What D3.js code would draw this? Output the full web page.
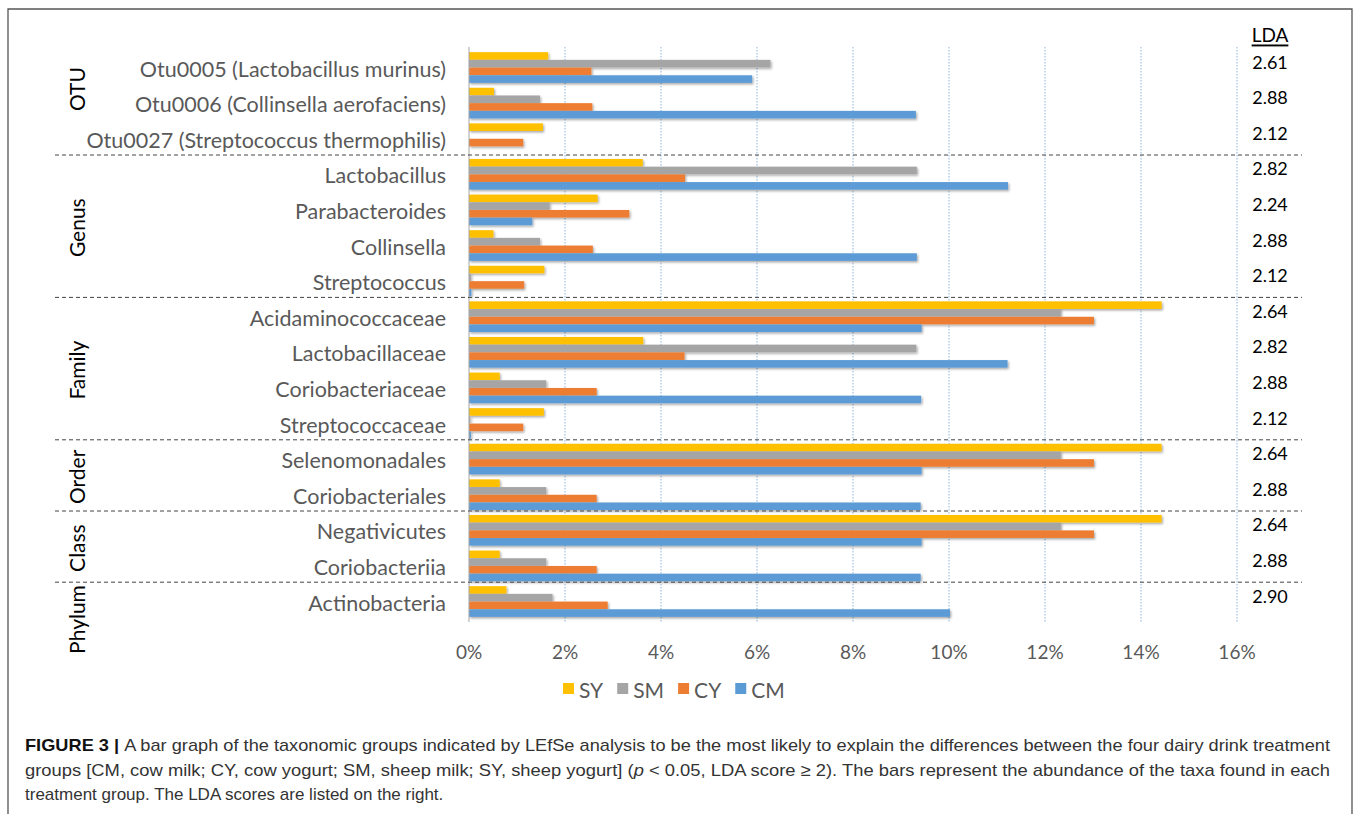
<!DOCTYPE html>
<html>
<head>
<meta charset="utf-8">
<script src="https://cdn.jsdelivr.net/npm/d3@7"></script>
<style>
  html, body { margin: 0; padding: 0; background: #fff; }
  svg { display: block; }
</style>
</head>
<body>
<svg id="chart" width="1357" height="814"></svg>
<script>
// ---------- data ----------
const categories = [
  "Otu0005 (Lactobacillus murinus)",
  "Otu0006 (Collinsella aerofaciens)",
  "Otu0027 (Streptococcus thermophilis)",
  "Lactobacillus",
  "Parabacteroides",
  "Collinsella",
  "Streptococcus",
  "Acidaminococcaceae",
  "Lactobacillaceae",
  "Coriobacteriaceae",
  "Streptococcaceae",
  "Selenomonadales",
  "Coriobacteriales",
  "Negativicutes",
  "Coriobacteriia",
  "Actinobacteria"
];
const seriesNames = ["SY", "SM", "CY", "CM"];
const SY = [1.65, 0.52, 1.54, 3.62, 2.68, 0.51, 1.57, 14.43, 3.63, 0.64, 1.56, 14.43, 0.64, 14.43, 0.64, 0.78];
const SM = [6.28, 1.48, 0.00, 9.33, 1.68, 1.48, 0.04, 12.33, 9.32, 1.61, 0.03, 12.33, 1.61, 12.33, 1.61, 1.74];
const CY = [2.55, 2.57, 1.13, 4.50, 3.34, 2.58, 1.15, 13.02, 4.49, 2.66, 1.13, 13.02, 2.66, 13.02, 2.66, 2.89];
const CM = [5.90, 9.31, 0.00, 11.23, 1.32, 9.33, 0.05, 9.43, 11.22, 9.42, 0.04, 9.43, 9.41, 9.43, 9.41, 10.02];
const LDA = ["2.61","2.88","2.12","2.82","2.24","2.88","2.12","2.64","2.82","2.88","2.12","2.64","2.88","2.64","2.88","2.90"];
const groupNames = ["OTU", "Genus", "Family", "Order", "Class", "Phylum"];
const groupSizes = [3, 4, 4, 2, 2, 1];
const tickValues = [0, 2, 4, 6, 8, 10, 12, 14, 16];
const tickLabels = ["0%", "2%", "4%", "6%", "8%", "10%", "12%", "14%", "16%"];
const captionLines = [
  [{t:"FIGURE 3 | ", b:true}, {t:"A bar graph of the taxonomic groups indicated by LEfSe analysis to be the most likely to explain the differences between the four dairy drink treatment"}],
  [{t:"groups [CM, cow milk; CY, cow yogurt; SM, sheep milk; SY, sheep yogurt] ("}, {t:"p", i:true}, {t:" < 0.05, LDA score \u2265 2). The bars represent the abundance of the taxa found in each"}],
  [{t:"treatment group. The LDA scores are listed on the right."}]
];

// ---------- style / layout ----------
const colors = {SY: "#FFC000", SM: "#A5A5A5", CY: "#ED7D31", CM: "#5B9BD5"};
const seriesValues = {SY, SM, CY, CM};
const svg = d3.select("#chart");
const labelFont = "Lato, 'Open Sans', sans-serif";

const x = d3.scaleLinear().domain([0, 16]).range([469, 1237]);
const y = d3.scaleBand().domain(categories).range([49.7, 619.3]).paddingInner(0.13).paddingOuter(0.065);
const ySub = d3.scaleBand().domain(seriesNames).range([0, y.bandwidth()]).padding(0.02);

// shadow filter
const defs = svg.append("defs");
const f = defs.append("filter").attr("id", "shadow").attr("x", "-5%").attr("y", "-50%").attr("width", "110%").attr("height", "200%");
f.append("feDropShadow").attr("dx", 1.2).attr("dy", 1.5).attr("stdDeviation", 0.8)
  .attr("flood-color", "#000").attr("flood-opacity", 0.35);

// frame
svg.append("path")
  .attr("d", "M8,814 L8,9 L1352,9 L1352,814")
  .attr("fill", "none").attr("stroke", "#555").attr("stroke-width", 1.3);

// gridlines
svg.append("g").selectAll("line").data(tickValues.slice(1)).join("line")
  .attr("x1", d => x(d)).attr("x2", d => x(d))
  .attr("y1", 47).attr("y2", 622)
  .attr("stroke", "#8DB3DB").attr("stroke-width", 1).attr("stroke-dasharray", "1.5,1.5");

// tick labels
svg.append("g").selectAll("text").data(tickValues).join("text")
  .attr("x", d => x(d)).attr("y", 651)
  .attr("text-anchor", "middle").attr("dominant-baseline", "central")
  .attr("font-family", labelFont).attr("font-size", 19).attr("fill", "#595959")
  .text((d, i) => tickLabels[i]);

// bars
const gBars = svg.append("g").attr("filter", "url(#shadow)");
seriesNames.forEach(s => {
  gBars.append("g").selectAll("rect").data(categories).join("rect")
    .attr("x", x(0))
    .attr("y", c => y(c) + ySub(s))
    .attr("width", (c, i) => Math.max(0, x(seriesValues[s][i]) - x(0)))
    .attr("height", ySub.bandwidth())
    .attr("fill", colors[s]);
});

// axis line
svg.append("line").attr("x1", x(0)).attr("x2", x(0)).attr("y1", 47).attr("y2", 622)
  .attr("stroke", "#A6A6A6").attr("stroke-width", 1);

// category labels
svg.append("g").selectAll("text").data(categories).join("text")
  .attr("x", 446).attr("y", c => y(c) + y.bandwidth() / 2 + 1)
  .attr("text-anchor", "end").attr("dominant-baseline", "central")
  .attr("font-family", labelFont).attr("font-size", 21.5).attr("fill", "#595959")
  .text(c => c);

// group separators and labels
let start = 0;
const step = y.step();
const bounds = [];
groupSizes.forEach((n, gi) => {
  const top = y(categories[start]) - y.paddingInner() * step / 2;
  const bottom = y(categories[start + n - 1]) + y.bandwidth() + y.paddingInner() * step / 2;
  bounds.push({name: groupNames[gi], top, bottom, last: gi === groupSizes.length - 1, first: gi === 0});
  start += n;
});
svg.append("g").selectAll("line").data(bounds.slice(0, -1)).join("line")
  .attr("x1", 55).attr("x2", 1302)
  .attr("y1", d => d.bottom - 1.5).attr("y2", d => d.bottom - 1.5)
  .attr("stroke", "#444").attr("stroke-width", 1).attr("stroke-dasharray", "4,3");
svg.append("g").selectAll("text").data(bounds).join("text")
  .attr("transform", d => {
    let cy = (d.top + d.bottom) / 2;
    if (d.first) cy -= 14;
    if (d.last) cy += 18;
    return `translate(76,${cy}) rotate(-90)`;
  })
  .attr("text-anchor", "middle").attr("dominant-baseline", "central")
  .attr("font-family", labelFont).attr("font-size", 21).attr("fill", "#000")
  .text(d => d.name);

// LDA column
svg.append("text").attr("x", 1270).attr("y", 34)
  .attr("text-anchor", "middle").attr("dominant-baseline", "central")
  .attr("font-family", labelFont).attr("font-size", 19).attr("fill", "#000")
  .attr("text-decoration", "underline").text("LDA");
svg.append("g").selectAll("text").data(categories).join("text")
  .attr("x", 1270).attr("y", c => y(c) + y.bandwidth() / 2 - 6)
  .attr("text-anchor", "middle").attr("dominant-baseline", "central")
  .attr("font-family", labelFont).attr("font-size", 18).attr("fill", "#000")
  .text((c, i) => LDA[i]);

// legend
const legend = svg.append("g").attr("transform", "translate(563,689)");
let lx = 0;
seriesNames.forEach(s => {
  const g = legend.append("g").attr("transform", `translate(${lx},0)`);
  g.append("rect").attr("x", 0).attr("y", -6).attr("width", 11).attr("height", 11).attr("fill", colors[s]);
  const t = g.append("text").attr("x", 16).attr("y", 0).attr("dominant-baseline", "central")
    .attr("font-family", labelFont).attr("font-size", 21).attr("fill", "#595959").text(s);
  lx += 16 + t.node().getComputedTextLength() + 14;
});

// caption
const capFont = "'Liberation Sans Narrow', 'Liberation Sans', Arial, sans-serif";
const capLengths = [1305, 1305, null];
captionLines.forEach((line, li) => {
  const t = svg.append("text").attr("x", 25).attr("y", 751 + li * 24.5)
    .attr("font-family", capFont).attr("font-size", 17).attr("fill", "#333");
  line.forEach(p => {
    const ts = t.append("tspan").text(p.t);
    if (p.b) ts.attr("font-weight", "bold").attr("fill", "#111");
    if (p.i) ts.attr("font-style", "italic");
  });
  if (capLengths[li]) t.attr("textLength", capLengths[li]).attr("lengthAdjust", "spacingAndGlyphs");
});
</script>
</body>
</html>
